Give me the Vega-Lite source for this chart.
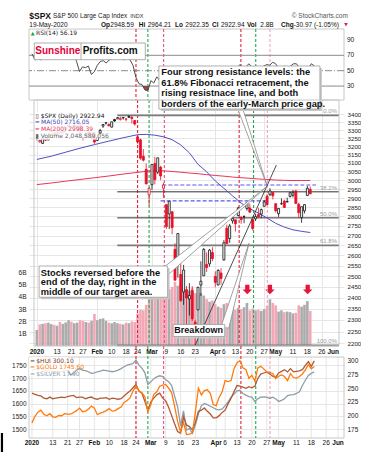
{
"$schema":"https://vega.github.io/schema/vega-lite/v6.json",
"background":"white",
"padding":{"left":0,"top":12,"right":0,"bottom":0},
"spacing":0,
"bounds":"flush",
"config":{
 "view":{"stroke":null},
 "axis":{"labelFont":"Liberation Sans","labelFontSize":6.5,"labelColor":"#222","ticks":false,"domain":false,"gridColor":"#e6e6e6","gridWidth":1,"labelOverlap":false}
},
"datasets":{
 "spx":[
{"i":0,"o":3244.67,"h":3258.14,"l":3235.53,"c":3257.85,"chg":27.07,"v":1.30,"rsi":72},
{"i":1,"o":3226.36,"h":3246.15,"l":3222.34,"c":3234.85,"chg":-23.0,"v":1.76,"rsi":64},
{"i":2,"o":3217.55,"h":3246.84,"l":3214.64,"c":3246.28,"chg":11.43,"v":1.80,"rsi":66},
{"i":3,"o":3241.86,"h":3244.91,"l":3232.43,"c":3237.18,"chg":-9.1,"v":1.85,"rsi":64},
{"i":4,"o":3238.59,"h":3267.07,"l":3236.67,"c":3253.05,"chg":15.87,"v":1.90,"rsi":67},
{"i":5,"o":3266.03,"h":3275.58,"l":3263.67,"c":3274.70,"chg":21.65,"v":1.78,"rsi":70},
{"i":6,"o":3281.81,"h":3282.99,"l":3260.86,"c":3265.35,"chg":-9.35,"v":1.72,"rsi":68},
{"i":7,"o":3271.13,"h":3288.13,"l":3268.43,"c":3288.13,"chg":22.78,"v":1.65,"rsi":71},
{"i":8,"o":3285.35,"h":3294.25,"l":3277.19,"c":3283.15,"chg":-4.98,"v":1.95,"rsi":69},
{"i":9,"o":3282.27,"h":3298.66,"l":3280.69,"c":3289.29,"chg":6.14,"v":1.80,"rsi":70},
{"i":10,"o":3302.97,"h":3317.11,"l":3302.82,"c":3316.81,"chg":27.52,"v":1.92,"rsi":74},
{"i":11,"o":3323.66,"h":3329.88,"l":3318.86,"c":3329.62,"chg":12.81,"v":2.10,"rsi":76},
{"i":12,"o":3321.03,"h":3329.79,"l":3316.61,"c":3320.79,"chg":-8.83,"v":1.98,"rsi":72},
{"i":13,"o":3330.02,"h":3337.77,"l":3320.04,"c":3321.75,"chg":0.96,"v":1.85,"rsi":72},
{"i":14,"o":3315.77,"h":3326.88,"l":3301.87,"c":3325.54,"chg":3.79,"v":1.90,"rsi":72},
{"i":15,"o":3333.10,"h":3333.18,"l":3281.53,"c":3295.47,"chg":-30.07,"v":2.10,"rsi":62},
{"i":16,"o":3247.16,"h":3258.85,"l":3234.50,"c":3243.63,"chg":-51.84,"v":2.05,"rsi":49},
{"i":17,"o":3255.35,"h":3285.78,"l":3253.22,"c":3276.24,"chg":32.61,"v":1.95,"rsi":55},
{"i":18,"o":3289.46,"h":3293.47,"l":3271.89,"c":3273.40,"chg":-2.84,"v":1.90,"rsi":54},
{"i":19,"o":3256.45,"h":3285.91,"l":3242.80,"c":3283.66,"chg":10.26,"v":2.05,"rsi":56},
{"i":20,"o":3282.33,"h":3282.33,"l":3214.68,"c":3225.52,"chg":-58.14,"v":2.60,"rsi":45},
{"i":21,"o":3235.66,"h":3268.44,"l":3235.66,"c":3248.92,"chg":23.4,"v":2.10,"rsi":49},
{"i":22,"o":3280.61,"h":3306.92,"l":3280.61,"c":3297.59,"chg":48.67,"v":2.20,"rsi":57},
{"i":23,"o":3324.91,"h":3337.58,"l":3313.75,"c":3334.69,"chg":37.1,"v":2.25,"rsi":62},
{"i":24,"o":3344.92,"h":3347.96,"l":3334.39,"c":3345.78,"chg":11.09,"v":2.05,"rsi":63},
{"i":25,"o":3335.54,"h":3341.42,"l":3322.12,"c":3327.71,"chg":-18.07,"v":1.90,"rsi":60},
{"i":26,"o":3318.28,"h":3352.26,"l":3317.77,"c":3352.09,"chg":24.38,"v":1.85,"rsi":64},
{"i":27,"o":3365.87,"h":3375.63,"l":3352.72,"c":3357.75,"chg":5.66,"v":1.95,"rsi":65},
{"i":28,"o":3370.50,"h":3381.47,"l":3369.72,"c":3379.45,"chg":21.7,"v":1.85,"rsi":67},
{"i":29,"o":3365.90,"h":3385.09,"l":3360.52,"c":3373.94,"chg":-5.51,"v":1.80,"rsi":66},
{"i":30,"o":3378.08,"h":3380.69,"l":3366.15,"c":3380.16,"chg":6.22,"v":1.75,"rsi":66},
{"i":31,"o":3369.04,"h":3375.01,"l":3355.61,"c":3370.29,"chg":-9.87,"v":1.90,"rsi":64},
{"i":32,"o":3380.39,"h":3393.52,"l":3378.83,"c":3386.15,"chg":15.86,"v":1.85,"rsi":67},
{"i":33,"o":3380.45,"h":3389.15,"l":3341.02,"c":3373.23,"chg":-12.92,"v":2.00,"rsi":64},
{"i":34,"o":3360.50,"h":3360.76,"l":3328.45,"c":3337.75,"chg":-35.48,"v":1.95,"rsi":57},
{"i":35,"o":3257.61,"h":3259.81,"l":3214.65,"c":3225.89,"chg":-111.86,"v":2.65,"rsi":41},
{"i":36,"o":3238.94,"h":3246.99,"l":3118.77,"c":3128.21,"chg":-97.68,"v":2.95,"rsi":33},
{"i":37,"o":3139.90,"h":3182.51,"l":3108.99,"c":3116.39,"chg":-11.82,"v":2.90,"rsi":32},
{"i":38,"o":3062.54,"h":3097.07,"l":2977.39,"c":2978.76,"chg":-137.63,"v":3.35,"rsi":25},
{"i":39,"o":2916.90,"h":2959.72,"l":2855.84,"c":2954.22,"chg":-24.54,"v":4.15,"rsi":24},
{"i":40,"o":2974.28,"h":3090.96,"l":2945.19,"c":3090.23,"chg":136.01,"v":5.3,"rsi":37},
{"i":41,"o":3096.46,"h":3136.72,"l":2976.63,"c":3003.37,"chg":-86.86,"v":5.2,"rsi":34},
{"i":42,"o":3045.75,"h":3130.97,"l":3034.38,"c":3130.12,"chg":126.75,"v":4.6,"rsi":42},
{"i":43,"o":3075.70,"h":3083.04,"l":2999.83,"c":3023.94,"chg":-106.18,"v":4.9,"rsi":37},
{"i":44,"o":2954.20,"h":2985.93,"l":2901.54,"c":2972.37,"chg":-51.57,"v":5.1,"rsi":35},
{"i":45,"o":2863.89,"h":2863.89,"l":2734.43,"c":2746.56,"chg":-225.81,"v":5.0,"rsi":27},
{"i":46,"o":2813.48,"h":2882.59,"l":2734.00,"c":2882.23,"chg":135.67,"v":4.6,"rsi":35},
{"i":47,"o":2825.60,"h":2825.60,"l":2707.22,"c":2741.38,"chg":-140.85,"v":4.8,"rsi":30},
{"i":48,"o":2630.86,"h":2660.95,"l":2478.86,"c":2480.64,"chg":-260.74,"v":5.2,"rsi":22},
{"i":49,"o":2569.99,"h":2711.33,"l":2492.37,"c":2711.02,"chg":230.38,"v":4.9,"rsi":32},
{"i":50,"o":2508.59,"h":2562.98,"l":2380.94,"c":2386.13,"chg":-324.89,"v":5.0,"rsi":25},
{"i":51,"o":2425.66,"h":2553.93,"l":2367.04,"c":2529.19,"chg":143.06,"v":4.7,"rsi":31},
{"i":52,"o":2436.50,"h":2453.57,"l":2280.52,"c":2398.10,"chg":-131.09,"v":4.6,"rsi":27},
{"i":53,"o":2393.48,"h":2466.97,"l":2319.78,"c":2409.39,"chg":11.29,"v":4.5,"rsi":28},
{"i":54,"o":2431.94,"h":2453.01,"l":2295.56,"c":2304.92,"chg":-104.47,"v":4.7,"rsi":25},
{"i":55,"o":2290.71,"h":2300.73,"l":2191.86,"c":2237.40,"chg":-67.52,"v":4.3,"rsi":23},
{"i":56,"o":2344.44,"h":2449.71,"l":2344.44,"c":2447.33,"chg":209.93,"v":4.2,"rsi":35},
{"i":57,"o":2457.77,"h":2571.42,"l":2407.53,"c":2475.56,"chg":28.23,"v":4.3,"rsi":36},
{"i":58,"o":2501.29,"h":2637.01,"l":2500.72,"c":2630.07,"chg":154.51,"v":4.1,"rsi":43},
{"i":59,"o":2555.87,"h":2615.91,"l":2520.02,"c":2541.47,"chg":-88.6,"v":3.8,"rsi":40},
{"i":60,"o":2558.98,"h":2631.80,"l":2545.28,"c":2626.65,"chg":85.18,"v":3.6,"rsi":44},
{"i":61,"o":2614.69,"h":2641.39,"l":2571.15,"c":2584.59,"chg":-42.06,"v":3.7,"rsi":42},
{"i":62,"o":2498.08,"h":2522.75,"l":2447.49,"c":2470.50,"chg":-114.09,"v":3.4,"rsi":38},
{"i":63,"o":2458.54,"h":2533.22,"l":2455.79,"c":2526.90,"chg":56.4,"v":3.2,"rsi":41},
{"i":64,"o":2514.92,"h":2538.18,"l":2459.96,"c":2488.65,"chg":-38.25,"v":3.1,"rsi":39},
{"i":65,"o":2578.28,"h":2676.85,"l":2574.57,"c":2663.68,"chg":175.03,"v":3.4,"rsi":49},
{"i":66,"o":2738.65,"h":2756.89,"l":2657.67,"c":2659.41,"chg":-4.27,"v":3.5,"rsi":49},
{"i":67,"o":2685.00,"h":2760.75,"l":2663.30,"c":2749.98,"chg":90.57,"v":3.2,"rsi":53},
{"i":68,"o":2776.99,"h":2818.57,"l":2762.36,"c":2789.82,"chg":39.84,"v":3.45,"rsi":55},
{"i":69,"o":2782.46,"h":2782.46,"l":2721.17,"c":2761.63,"chg":-28.19,"v":2.95,"rsi":54},
{"i":70,"o":2805.10,"h":2851.85,"l":2805.10,"c":2846.06,"chg":84.43,"v":3.1,"rsi":58},
{"i":71,"o":2795.64,"h":2801.88,"l":2761.54,"c":2783.36,"chg":-62.7,"v":3.0,"rsi":54},
{"i":72,"o":2799.34,"h":2806.51,"l":2764.32,"c":2799.55,"chg":16.19,"v":3.15,"rsi":55},
{"i":73,"o":2842.43,"h":2879.22,"l":2830.88,"c":2874.56,"chg":75.01,"v":3.5,"rsi":59},
{"i":74,"o":2845.62,"h":2868.98,"l":2820.43,"c":2823.16,"chg":-51.4,"v":2.9,"rsi":55},
{"i":75,"o":2784.81,"h":2785.54,"l":2727.10,"c":2736.56,"chg":-86.6,"v":3.05,"rsi":50},
{"i":76,"o":2787.89,"h":2815.10,"l":2775.95,"c":2799.31,"chg":62.75,"v":2.9,"rsi":54},
{"i":77,"o":2810.42,"h":2844.90,"l":2794.26,"c":2797.80,"chg":-1.51,"v":2.95,"rsi":54},
{"i":78,"o":2812.64,"h":2842.71,"l":2791.76,"c":2836.74,"chg":38.94,"v":2.85,"rsi":56},
{"i":79,"o":2854.65,"h":2887.72,"l":2852.89,"c":2878.48,"chg":41.74,"v":3.0,"rsi":58},
{"i":80,"o":2909.96,"h":2921.15,"l":2860.71,"c":2863.39,"chg":-15.09,"v":3.25,"rsi":57},
{"i":81,"o":2918.46,"h":2954.86,"l":2912.16,"c":2939.51,"chg":76.12,"v":3.8,"rsi":61},
{"i":82,"o":2930.91,"h":2930.91,"l":2892.47,"c":2912.43,"chg":-27.08,"v":3.5,"rsi":59},
{"i":83,"o":2869.09,"h":2869.09,"l":2821.61,"c":2830.71,"chg":-81.72,"v":3.3,"rsi":53},
{"i":84,"o":2815.01,"h":2844.24,"l":2797.85,"c":2842.74,"chg":12.03,"v":2.8,"rsi":54},
{"i":85,"o":2868.88,"h":2898.23,"l":2863.55,"c":2868.44,"chg":25.7,"v":2.9,"rsi":56},
{"i":86,"o":2883.14,"h":2891.11,"l":2847.65,"c":2848.42,"chg":-20.02,"v":2.75,"rsi":54},
{"i":87,"o":2878.26,"h":2901.92,"l":2876.48,"c":2881.19,"chg":32.77,"v":2.8,"rsi":56},
{"i":88,"o":2908.83,"h":2932.16,"l":2902.88,"c":2929.80,"chg":48.61,"v":2.75,"rsi":59},
{"i":89,"o":2915.46,"h":2944.25,"l":2903.44,"c":2930.19,"chg":0.39,"v":2.65,"rsi":59},
{"i":90,"o":2939.50,"h":2945.82,"l":2869.59,"c":2870.12,"chg":-60.07,"v":2.7,"rsi":54},
{"i":91,"o":2865.86,"h":2874.14,"l":2793.15,"c":2820.00,"chg":-50.12,"v":3.3,"rsi":50},
{"i":92,"o":2794.54,"h":2852.80,"l":2766.64,"c":2852.50,"chg":32.5,"v":3.2,"rsi":53},
{"i":93,"o":2829.95,"h":2865.01,"l":2816.78,"c":2863.70,"chg":11.2,"v":3.35,"rsi":53},
{"i":94,"o":2913.86,"h":2968.09,"l":2913.86,"c":2953.91,"chg":90.21,"v":3.65,"rsi":59},
{"i":95,"o":2948.59,"h":2964.21,"l":2922.35,"c":2922.94,"chg":-30.97,"v":2.85,"rsi":56.19}
 ],
 "ma":[
{"i":0,"ma50":3121,"ma200":2975},{"i":5,"ma50":3140,"ma200":2984},{"i":10,"ma50":3164,"ma200":2994},{"i":15,"ma50":3188,"ma200":3004},{"i":20,"ma50":3210,"ma200":3014},{"i":25,"ma50":3231,"ma200":3024},{"i":30,"ma50":3252,"ma200":3035},{"i":35,"ma50":3271,"ma200":3045},{"i":38,"ma50":3273,"ma200":3051},{"i":41,"ma50":3268,"ma200":3055},{"i":44,"ma50":3258,"ma200":3054},{"i":47,"ma50":3240,"ma200":3050},{"i":50,"ma50":3208,"ma200":3046},{"i":53,"ma50":3160,"ma200":3041},{"i":56,"ma50":3092,"ma200":3037},{"i":59,"ma50":3048,"ma200":3032},{"i":62,"ma50":2996,"ma200":3027},{"i":65,"ma50":2954,"ma200":3023},{"i":68,"ma50":2912,"ma200":3018},{"i":71,"ma50":2872,"ma200":3014},{"i":74,"ma50":2842,"ma200":3011},{"i":77,"ma50":2818,"ma200":3007},{"i":80,"ma50":2792,"ma200":3004},{"i":83,"ma50":2764,"ma200":3001},{"i":86,"ma50":2744,"ma200":2999},{"i":89,"ma50":2730,"ma200":2998},{"i":92,"ma50":2722,"ma200":2998},{"i":95,"ma50":2716.05,"ma200":2998.39}
 ],
 "metals":[
{"i":0,"gold":1524,"hui":241,"silver":18.0},{"i":1,"gold":1550,"hui":239,"silver":18.1},{"i":2,"gold":1566,"hui":237,"silver":18.15},{"i":3,"gold":1574,"hui":236,"silver":18.2},{"i":4,"gold":1558,"hui":232,"silver":18.1},{"i":5,"gold":1552,"hui":231,"silver":17.95},{"i":6,"gold":1560,"hui":234,"silver":18.0},{"i":7,"gold":1548,"hui":231,"silver":17.95},{"i":8,"gold":1546,"hui":232,"silver":17.85},{"i":9,"gold":1553,"hui":233,"silver":17.9},
{"i":10,"gold":1552,"hui":234,"silver":17.95},{"i":11,"gold":1560,"hui":233,"silver":18.0},{"i":12,"gold":1558,"hui":235,"silver":18.05},{"i":13,"gold":1558,"hui":236,"silver":17.6},{"i":14,"gold":1565,"hui":237,"silver":17.75},{"i":15,"gold":1572,"hui":233,"silver":18.05},{"i":16,"gold":1582,"hui":234,"silver":18.2},{"i":17,"gold":1568,"hui":234,"silver":18.05},{"i":18,"gold":1570,"hui":231,"silver":18.0},{"i":19,"gold":1578,"hui":233,"silver":17.9},
{"i":20,"gold":1590,"hui":234,"silver":17.75},{"i":21,"gold":1582,"hui":231,"silver":17.8},{"i":22,"gold":1556,"hui":230,"silver":17.9},{"i":23,"gold":1562,"hui":232,"silver":17.95},{"i":24,"gold":1566,"hui":232,"silver":18.05},{"i":25,"gold":1572,"hui":233,"silver":18.0},{"i":26,"gold":1580,"hui":230,"silver":17.95},{"i":27,"gold":1570,"hui":232,"silver":17.9},{"i":28,"gold":1572,"hui":231,"silver":17.95},{"i":29,"gold":1580,"hui":230,"silver":18.05},
{"i":30,"gold":1586,"hui":231,"silver":18.2},{"i":31,"gold":1604,"hui":236,"silver":18.37},{"i":32,"gold":1612,"hui":241,"silver":18.52},{"i":33,"gold":1622,"hui":245,"silver":18.6},{"i":34,"gold":1649,"hui":251,"silver":18.68},{"i":35,"gold":1668,"hui":257,"silver":19.0},{"i":36,"gold":1650,"hui":245,"silver":18.52},{"i":37,"gold":1642,"hui":241,"silver":18.25},{"i":38,"gold":1626,"hui":226,"silver":17.8},{"i":39,"gold":1568,"hui":210,"silver":16.7},
{"i":40,"gold":1596,"hui":225,"silver":16.95},{"i":41,"gold":1636,"hui":232,"silver":17.25},{"i":42,"gold":1646,"hui":238,"silver":17.42},{"i":43,"gold":1668,"hui":241,"silver":17.52},{"i":44,"gold":1672,"hui":232,"silver":17.45},{"i":45,"gold":1675,"hui":227,"silver":17.15},{"i":46,"gold":1660,"hui":215,"silver":16.95},{"i":47,"gold":1642,"hui":200,"silver":16.6},{"i":48,"gold":1590,"hui":185,"silver":15.6},{"i":49,"gold":1530,"hui":171,"silver":14.6},
{"i":50,"gold":1488,"hui":168,"silver":12.8},{"i":51,"gold":1526,"hui":198,"silver":14.2},{"i":52,"gold":1478,"hui":183,"silver":12.4},{"i":53,"gold":1480,"hui":180,"silver":12.55},{"i":54,"gold":1485,"hui":174,"silver":12.1},{"i":55,"gold":1568,"hui":188,"silver":12.9},{"i":56,"gold":1660,"hui":208,"silver":13.9},{"i":57,"gold":1634,"hui":210,"silver":14.7},{"i":58,"gold":1651,"hui":214,"silver":14.9},{"i":59,"gold":1654,"hui":208,"silver":14.8},
{"i":60,"gold":1640,"hui":203,"silver":14.65},{"i":61,"gold":1596,"hui":196,"silver":14.5},{"i":62,"gold":1592,"hui":196,"silver":14.35},{"i":63,"gold":1625,"hui":200,"silver":14.3},{"i":64,"gold":1646,"hui":206,"silver":14.4},{"i":65,"gold":1690,"hui":210,"silver":14.7},{"i":66,"gold":1686,"hui":222,"silver":15.05},{"i":67,"gold":1690,"hui":232,"silver":15.5},{"i":68,"gold":1737,"hui":244,"silver":15.8},{"i":69,"gold":1760,"hui":255,"silver":16.1},
{"i":70,"gold":1768,"hui":254,"silver":16.15},{"i":71,"gold":1740,"hui":252,"silver":15.85},{"i":72,"gold":1733,"hui":250,"silver":15.7},{"i":73,"gold":1699,"hui":253,"silver":15.55},{"i":74,"gold":1711,"hui":251,"silver":15.5},{"i":75,"gold":1688,"hui":254,"silver":15.1},{"i":76,"gold":1740,"hui":268,"silver":15.35},{"i":77,"gold":1746,"hui":276,"silver":15.5},{"i":78,"gold":1736,"hui":278,"silver":15.52},{"i":79,"gold":1724,"hui":280,"silver":15.5},
{"i":80,"gold":1722,"hui":276,"silver":15.38},{"i":81,"gold":1718,"hui":272,"silver":15.5},{"i":82,"gold":1698,"hui":270,"silver":15.35},{"i":83,"gold":1707,"hui":278,"silver":15.1},{"i":84,"gold":1712,"hui":281,"silver":15.2},{"i":85,"gold":1706,"hui":284,"silver":15.35},{"i":86,"gold":1690,"hui":280,"silver":15.65},{"i":87,"gold":1718,"hui":286,"silver":15.72},{"i":88,"gold":1702,"hui":280,"silver":15.75},{"i":89,"gold":1700,"hui":281,"silver":15.85},
{"i":90,"gold":1706,"hui":282,"silver":16.0},{"i":91,"gold":1716,"hui":284,"silver":16.6},{"i":92,"gold":1732,"hui":292,"silver":17.1},{"i":93,"gold":1753,"hui":299,"silver":17.55},{"i":94,"gold":1736,"hui":290,"silver":17.75},{"i":95,"gold":1745.6,"hui":300.1,"silver":17.9}
 ],
 "ticks":[{"t":0,"lab":"2020","m":1},{"t":7,"lab":"13","m":0},{"t":12,"lab":"21","m":0},{"t":16,"lab":"27","m":0},{"t":21,"lab":"Feb","m":1},{"t":26,"lab":"10","m":0},{"t":31,"lab":"18","m":0},{"t":35,"lab":"24","m":0},{"t":40,"lab":"Mar","m":1},{"t":45,"lab":"9","m":0},{"t":50,"lab":"16","m":0},{"t":55,"lab":"23","m":0},{"t":62,"lab":"Apr","m":1},{"t":65,"lab":"6","m":0},{"t":69,"lab":"13","m":0},{"t":74,"lab":"20","m":0},{"t":79,"lab":"27","m":0},{"t":83,"lab":"May","m":1},{"t":89,"lab":"11","m":0},{"t":94,"lab":"18","m":0},{"t":99,"lab":"26","m":0},{"t":103,"lab":"Jun","m":1}],
 "vlines":[{"i":35,"k":"r"},{"i":39,"k":"g"},{"i":44.3,"k":"p"},{"i":70.3,"k":"r"},{"i":75.3,"k":"g"},{"i":80.1,"k":"lp"}],
 "fib":[{"lvl":"0.0%","p":3393.52},{"lvl":"38.2%","p":2934.47},{"lvl":"50.0%","p":2792.69},{"lvl":"61.8%","p":2650.91},{"lvl":"100.0%","p":2191.86}],
 "gap":[{"p":2972.8,"from":43.6,"to":97},{"p":2884,"from":43.0,"to":80.4}],
 "oversold":[{"i":37.29,"rsi":30},{"i":38,"rsi":25},{"i":39,"rsi":24},{"i":39.46,"rsi":30}],
 "ptrFour":[{"i":69.14,"a":3467.6,"b":3467.6},{"i":71.03,"a":3467.6,"b":3375.2},{"i":79.93,"a":2972.8,"b":2972.8}],
 "ptrStocks":[{"i":44.77,"a":2549.6,"b":2496.2},{"i":79.76,"a":2961.5,"b":2961.5}],
 "ptrBreak":[{"i":63.83,"a":2265.3,"b":2265.3},{"i":66.73,"a":2374.7,"b":2265.3},{"i":73.71,"a":2660.8,"b":2660.8}],
 "arrows":[{"i":73.13},{"i":81.0},{"i":94.13}],
 "trend":[{"i":55,"p":2191.86},{"i":83.23,"p":3087.9}]
},
"vconcat":[
{
 "width":315,"height":71,
 "layer":[
  {"data":{"values":[{}]},"mark":{"type":"rect","fillOpacity":0,"stroke":"#c8c8c8","strokeWidth":1},"encoding":{"x":{"datum":-1,"axis":null},"x2":{"datum":105},"y":{"datum":104.2,"axis":null},"y2":{"datum":11.9}}},
  {"data":{"name":"vlines"},"mark":{"type":"rule","strokeDash":[3,2],"strokeWidth":1.1},
   "encoding":{
    "x":{"field":"i","type":"quantitative","title":null,"scale":{"domain":[-1,105],"nice":false,"zero":false},"axis":{"values":[0,7,12,16,21,26,31,35,40,45,50,55,62,65,69,74,79,83,89,94,99,103],"labels":false,"grid":true,"title":null}},
    "color":{"field":"k","type":"nominal","scale":{"domain":["r","g","p","lp"],"range":["#e3213b","#1fae4b","#ea4f78","#f4a0b8"]},"legend":null}}},
  {"data":{"values":[{"lv":70},{"lv":30}]},"mark":{"type":"rule","color":"#8a8a8a","strokeWidth":1},
   "encoding":{"y":{"field":"lv","type":"quantitative","title":null,"scale":{"domain":[11.9,104.2],"nice":false,"zero":false},"axis":{"orient":"right","values":[10,30,50,70,90],"labels":false,"grid":true,"title":null}}}},
  {"data":{"values":[{}]},"mark":{"type":"rule","color":"#8a8a8a","strokeWidth":1,"strokeDash":[7,2,1,2]},"encoding":{"y":{"datum":50,"axis":null}}},
  {"data":{"name":"oversold"},"mark":{"type":"area","color":"#8e3b3b","opacity":0.95},"encoding":{"x":{"field":"i","type":"quantitative","title":null},"y":{"field":"rsi","type":"quantitative","title":null},"y2":{"datum":30}}},
  {"data":{"name":"spx"},"mark":{"type":"line","color":"#4d4d4d","strokeWidth":1},"encoding":{"x":{"field":"i","type":"quantitative","title":null},"y":{"field":"rsi","type":"quantitative","title":null}}},
  {"data":{"values":[{"lv":90},{"lv":70},{"lv":50},{"lv":30}]},"mark":{"type":"text","align":"left","baseline":"middle","dx":3,"font":"Liberation Sans","fontSize":6.5,"color":"#222"},"encoding":{"x":{"datum":105,"axis":null},"y":{"field":"lv","type":"quantitative","title":null,"axis":null},"text":{"field":"lv"}}},
  {"data":{"values":[{}]},"mark":{"type":"rect","fill":"white","stroke":"#9a9a9a","strokeWidth":0.8},"encoding":{"x":{"datum":0.78,"axis":null},"x2":{"datum":38.14},"y":{"datum":86.0,"axis":null},"y2":{"datum":64.3}}},
  {"data":{"values":[{}]},"mark":{"type":"rule","color":"#9a9a9a","strokeWidth":0.8},"encoding":{"x":{"datum":16.5,"axis":null},"y":{"datum":86.0,"axis":null},"y2":{"datum":64.3}}},
  {"data":{"values":[{}]},"mark":{"type":"text","text":"Sunshine","align":"left","baseline":"middle","font":"Liberation Sans","fontSize":10,"fontWeight":"bold","color":"#e4003a"},"encoding":{"x":{"datum":1.12,"axis":null},"y":{"datum":75.2,"axis":null}}},
  {"data":{"values":[{}]},"mark":{"type":"text","text":"Profits.com","align":"left","baseline":"middle","font":"Liberation Sans","fontSize":10,"fontWeight":"bold","color":"#111"},"encoding":{"x":{"datum":17.07,"axis":null},"y":{"datum":75.2,"axis":null}}},
  {"data":{"values":[{}]},"mark":{"type":"text","text":"▲","align":"left","baseline":"middle","font":"DejaVu Sans","fontSize":5,"color":"#2a9d4a"},"encoding":{"x":{"datum":-0.4,"axis":null},"y":{"datum":99.0,"axis":null}}},
  {"data":{"values":[{}]},"mark":{"type":"text","text":"RSI(14) 56.19","align":"left","baseline":"middle","font":"DejaVu Sans","fontSize":6,"color":"#222"},"encoding":{"x":{"datum":1.36,"axis":null},"y":{"datum":99.0,"axis":null}}},
  {"data":{"values":[{}]},"mark":{"type":"text","text":"$SPX","align":"left","baseline":"middle","font":"Liberation Sans","fontSize":8.5,"fontWeight":"bold","color":"#111"},"encoding":{"x":{"datum":-0.9,"axis":null},"y":{"datum":121.1,"axis":null}}},
  {"data":{"values":[{}]},"mark":{"type":"text","text":"S&P 500 Large Cap Index","align":"left","baseline":"middle","font":"Liberation Sans","fontSize":6.4,"color":"#222"},"encoding":{"x":{"datum":7.08,"axis":null},"y":{"datum":121.1,"axis":null}}},
  {"data":{"values":[{}]},"mark":{"type":"text","text":"INDX","align":"left","baseline":"middle","font":"Liberation Sans","fontSize":5.5,"color":"#333"},"encoding":{"x":{"datum":33.09,"axis":null},"y":{"datum":121.1,"axis":null}}},
  {"data":{"values":[{}]},"mark":{"type":"text","text":"© StockCharts.com","align":"right","baseline":"middle","font":"Liberation Sans","fontSize":6.5,"color":"#555"},"encoding":{"x":{"datum":106.28,"axis":null},"y":{"datum":121.1,"axis":null}}},
  {"data":{"values":[{}]},"mark":{"type":"text","text":"19-May-2020","align":"left","baseline":"middle","font":"Liberation Sans","fontSize":6.5,"color":"#111"},"encoding":{"x":{"datum":-0.9,"axis":null},"y":{"datum":109.4,"axis":null}}},
  {"data":{"values":[{}]},"mark":{"type":"text","text":"Op","align":"left","baseline":"middle","font":"Liberation Sans","fontSize":6.5,"fontWeight":"bold","color":"#111"},"encoding":{"x":{"datum":23.23,"axis":null},"y":{"datum":109.4,"axis":null}}},
  {"data":{"values":[{}]},"mark":{"type":"text","text":"2948.59","align":"left","baseline":"middle","font":"Liberation Sans","fontSize":6.5,"color":"#111"},"encoding":{"x":{"datum":26.37,"axis":null},"y":{"datum":109.4,"axis":null}}},
  {"data":{"values":[{}]},"mark":{"type":"text","text":"Hi","align":"left","baseline":"middle","font":"Liberation Sans","fontSize":6.5,"fontWeight":"bold","color":"#111"},"encoding":{"x":{"datum":35.91,"axis":null},"y":{"datum":109.4,"axis":null}}},
  {"data":{"values":[{}]},"mark":{"type":"text","text":"2964.21","align":"left","baseline":"middle","font":"Liberation Sans","fontSize":6.5,"color":"#111"},"encoding":{"x":{"datum":38.94,"axis":null},"y":{"datum":109.4,"axis":null}}},
  {"data":{"values":[{}]},"mark":{"type":"text","text":"Lo","align":"left","baseline":"middle","font":"Liberation Sans","fontSize":6.5,"fontWeight":"bold","color":"#111"},"encoding":{"x":{"datum":48.13,"axis":null},"y":{"datum":109.4,"axis":null}}},
  {"data":{"values":[{}]},"mark":{"type":"text","text":"2922.35","align":"left","baseline":"middle","font":"Liberation Sans","fontSize":6.5,"color":"#111"},"encoding":{"x":{"datum":51.6,"axis":null},"y":{"datum":109.4,"axis":null}}},
  {"data":{"values":[{}]},"mark":{"type":"text","text":"Cl","align":"left","baseline":"middle","font":"Liberation Sans","fontSize":6.5,"fontWeight":"bold","color":"#111"},"encoding":{"x":{"datum":60.58,"axis":null},"y":{"datum":109.4,"axis":null}}},
  {"data":{"values":[{}]},"mark":{"type":"text","text":"2922.94","align":"left","baseline":"middle","font":"Liberation Sans","fontSize":6.5,"color":"#111"},"encoding":{"x":{"datum":63.61,"axis":null},"y":{"datum":109.4,"axis":null}}},
  {"data":{"values":[{}]},"mark":{"type":"text","text":"Vol","align":"left","baseline":"middle","font":"Liberation Sans","fontSize":6.5,"fontWeight":"bold","color":"#111"},"encoding":{"x":{"datum":72.36,"axis":null},"y":{"datum":109.4,"axis":null}}},
  {"data":{"values":[{}]},"mark":{"type":"text","text":"2.8B","align":"left","baseline":"middle","font":"Liberation Sans","fontSize":6.5,"color":"#111"},"encoding":{"x":{"datum":76.84,"axis":null},"y":{"datum":109.4,"axis":null}}},
  {"data":{"values":[{}]},"mark":{"type":"text","text":"Chg","align":"left","baseline":"middle","font":"Liberation Sans","fontSize":6.5,"fontWeight":"bold","color":"#111"},"encoding":{"x":{"datum":83.8,"axis":null},"y":{"datum":109.4,"axis":null}}},
  {"data":{"values":[{}]},"mark":{"type":"text","text":"-30.97 (-1.05%)","align":"left","baseline":"middle","font":"Liberation Sans","fontSize":6.5,"color":"#111"},"encoding":{"x":{"datum":88.07,"axis":null},"y":{"datum":109.4,"axis":null}}},
  {"data":{"values":[{}]},"mark":{"type":"text","text":"▼","align":"left","baseline":"middle","font":"DejaVu Sans","fontSize":4.5,"color":"#e3173e"},"encoding":{"x":{"datum":105.1,"axis":null},"y":{"datum":109.4,"axis":null}}}
 ]
},
{
 "width":315,"height":246,
 "resolve":{"scale":{"y":"independent"},"axis":{"y":"independent"}},
 "layer":[
  {"data":{"name":"spx"},"mark":{"type":"bar","width":2.6,"orient":"vertical"},
   "encoding":{
    "x":{"field":"i","type":"quantitative","title":null,"scale":{"domain":[-1,105],"nice":false,"zero":false},
     "axis":{"values":[0,7,12,16,21,26,31,35,40,45,50,55,62,65,69,74,79,83,89,94,99,103],"labels":false,"grid":true,"title":null}},
    "y":{"field":"v","type":"quantitative","title":null,"scale":{"domain":[0,20],"nice":false},"axis":{"orient":"left","values":[1,2,3,4,5,6],"labelExpr":"datum.value + 'B'","grid":false,"labelPadding":3,"labelOverlap":false,"title":null}},
    "color":{"condition":{"test":"datum.chg < 0","value":"#f2a7b6"},"value":"#ababab"}}},
  {"data":{"name":"arrows"},"mark":{"type":"point","shape":"M-0.45,-1L0.45,-1L0.45,0L1,0L0,1L-1,0L-0.45,0Z","size":90,"filled":true,"color":"#e3173e","opacity":1},
   "encoding":{"x":{"field":"i","type":"quantitative","title":null},"y":{"datum":4.59,"scale":{"domain":[0,20],"nice":false},"axis":null}}},
  {"data":{"name":"vlines"},"mark":{"type":"rule","strokeDash":[3,2],"strokeWidth":1.1},
   "encoding":{"x":{"field":"i","type":"quantitative","title":null},
    "color":{"field":"k","type":"nominal","scale":{"domain":["r","g","p","lp"],"range":["#e3213b","#1fae4b","#ea4f78","#f4a0b8"]},"legend":null}}},
  {"data":{"name":"fib"},"mark":{"type":"rule"},
   "encoding":{"x":{"datum":27.94},"x2":{"datum":105},
    "y":{"field":"p","type":"quantitative","title":null,"scale":{"type":"log","domain":[2189,3494],"nice":false,"zero":false},"axis":{"orient":"right","values":[2200,2250,2300,2350,2400,2450,2500,2550,2600,2650,2700,2750,2800,2850,2900,2950,3000,3050,3100,3150,3200,3250,3300,3350,3400],"format":"d","grid":true,"labelPadding":3,"labelFontSize":6.2,"labelOverlap":false,"title":null}},
    "color":{"condition":{"test":"datum.lvl == '38.2%' || datum.lvl == '50.0%'","value":"#333"},"value":"#7a7a7a"},
    "strokeWidth":{"condition":{"test":"datum.lvl == '38.2%' || datum.lvl == '50.0%'","value":1},"value":1.8}}},
  {"data":{"name":"gap"},"mark":{"type":"rule","color":"#5b5bea","strokeDash":[4,2],"strokeWidth":1.2},
   "encoding":{"x":{"field":"from","type":"quantitative","title":null},"x2":{"field":"to"},"y":{"field":"p","type":"quantitative","title":null,"scale":{"type":"log","domain":[2189,3494],"nice":false,"zero":false},"axis":null}}},
  {"data":{"name":"ma"},"mark":{"type":"line","color":"#e8365a","strokeWidth":1},"encoding":{"x":{"field":"i","type":"quantitative","title":null},"y":{"field":"ma200","type":"quantitative","title":null,"scale":{"type":"log","domain":[2189,3494],"nice":false,"zero":false},"axis":null}}},
  {"data":{"name":"ma"},"mark":{"type":"line","color":"#4f4fc4","strokeWidth":1},"encoding":{"x":{"field":"i","type":"quantitative","title":null},"y":{"field":"ma50","type":"quantitative","title":null,"scale":{"type":"log","domain":[2189,3494],"nice":false,"zero":false},"axis":null}}},
  {"data":{"name":"spx"},"mark":{"type":"rule","strokeWidth":0.8},
   "encoding":{"x":{"field":"i","type":"quantitative","title":null},"y":{"field":"l","type":"quantitative","title":null,"scale":{"type":"log","domain":[2189,3494],"nice":false,"zero":false},"axis":null},"y2":{"field":"h"},
    "color":{"condition":{"test":"datum.chg < 0","value":"#e8102a"},"value":"#111"}}},
  {"data":{"name":"spx"},"mark":{"type":"bar","width":2.0,"orient":"vertical","strokeWidth":0.8},
   "encoding":{"x":{"field":"i","type":"quantitative","title":null},"y":{"field":"o","type":"quantitative","title":null,"scale":{"type":"log","domain":[2189,3494],"nice":false,"zero":false},"axis":null},"y2":{"field":"c"},
    "stroke":{"condition":{"test":"datum.chg < 0","value":"#e8102a"},"value":"#111"},
    "fill":{"condition":[{"test":"datum.c > datum.o","value":"white"},{"test":"datum.chg < 0","value":"#e8102a"}],"value":"#111"}}},
  {"data":{"name":"trend"},"mark":{"type":"line","color":"#222","strokeWidth":0.8},"encoding":{"x":{"field":"i","type":"quantitative","title":null},"y":{"field":"p","type":"quantitative","title":null,"scale":{"type":"log","domain":[2189,3494],"nice":false,"zero":false},"axis":null}}},
  {"data":{"values":[{}]},"mark":{"type":"rect","fill":"white","opacity":0.85},"encoding":{"x":{"datum":-1},"x2":{"datum":27.6},"y":{"datum":3418.5,"scale":{"type":"log","domain":[2189,3494],"nice":false,"zero":false},"axis":null},"y2":{"datum":3370}}},
  {"data":{"values":[{}]},"mark":{"type":"rect","fill":"white","opacity":0.85},"encoding":{"x":{"datum":-1},"x2":{"datum":21.3},"y":{"datum":3370,"scale":{"type":"log","domain":[2189,3494],"nice":false,"zero":false},"axis":null},"y2":{"datum":3239.4}}},
  {"data":{"values":[{}]},"mark":{"type":"text","text":"▯ $SPX (Daily) 2922.94","align":"left","baseline":"middle","font":"DejaVu Sans","fontSize":6,"color":"#111"},"encoding":{"x":{"datum":-0.5},"y":{"datum":3391.3,"scale":{"type":"log","domain":[2189,3494],"nice":false,"zero":false},"axis":null}}},
  {"data":{"values":[{}]},"mark":{"type":"text","text":"━ MA(50) 2716.05","align":"left","baseline":"middle","font":"DejaVu Sans","fontSize":6,"color":"#4444bb"},"encoding":{"x":{"datum":-0.5},"y":{"datum":3349.0,"scale":{"type":"log","domain":[2189,3494],"nice":false,"zero":false},"axis":null}}},
  {"data":{"values":[{}]},"mark":{"type":"text","text":"━ MA(200) 2998.39","align":"left","baseline":"middle","font":"DejaVu Sans","fontSize":6,"color":"#e8365a"},"encoding":{"x":{"datum":-0.5},"y":{"datum":3304.8,"scale":{"type":"log","domain":[2189,3494],"nice":false,"zero":false},"axis":null}}},
  {"data":{"values":[{}]},"mark":{"type":"text","text":"▮ Volume 2,048,589,056","align":"left","baseline":"middle","font":"DejaVu Sans","fontSize":6,"color":"#666"},"encoding":{"x":{"datum":-0.5},"y":{"datum":3261.1,"scale":{"type":"log","domain":[2189,3494],"nice":false,"zero":false},"axis":null}}},
  {"data":{"name":"ptrStocks"},"mark":{"type":"area","fill":"white","stroke":"#8c8c8c","strokeWidth":0.8,"orient":"vertical"},"encoding":{"x":{"field":"i","type":"quantitative","title":null},"y":{"field":"a","type":"quantitative","title":null,"scale":{"type":"log","domain":[2189,3494],"nice":false,"zero":false},"axis":null},"y2":{"field":"b"}}},
  {"data":{"name":"ptrFour"},"mark":{"type":"area","fill":"white","stroke":"#8c8c8c","strokeWidth":0.8,"orient":"vertical"},"encoding":{"x":{"field":"i","type":"quantitative","title":null},"y":{"field":"a","type":"quantitative","title":null,"scale":{"type":"log","domain":[2189,3494],"nice":false,"zero":false},"axis":null},"y2":{"field":"b"}}},
  {"data":{"name":"ptrBreak"},"mark":{"type":"area","fill":"white","stroke":"#8c8c8c","strokeWidth":0.8,"orient":"vertical"},"encoding":{"x":{"field":"i","type":"quantitative","title":null},"y":{"field":"a","type":"quantitative","title":null,"scale":{"type":"log","domain":[2189,3494],"nice":false,"zero":false},"axis":null},"y2":{"field":"b"}}},
  {"data":{"values":[{}]},"mark":{"type":"rect","fill":"#c8c8c8"},"encoding":{"x":{"datum":43.08},"x2":{"datum":99.04},"y":{"datum":3713.2,"scale":{"type":"log","domain":[2189,3494],"nice":false,"zero":false},"axis":null},"y2":{"datum":3421.7}}},
  {"data":{"values":[{}]},"mark":{"type":"rect","fill":"white","stroke":"#9a9a9a","strokeWidth":0.8},"encoding":{"x":{"datum":42.41},"x2":{"datum":98.37},"y":{"datum":3727.3,"scale":{"type":"log","domain":[2189,3494],"nice":false,"zero":false},"axis":null},"y2":{"datum":3434.7}}},
  {"data":{"values":[{}]},"mark":{"type":"text","text":["Four strong resistance levels: the","61.8% Fibonacci retracement, the","rising resistnace line, and both","borders of the early-March price gap."],"lineHeight":10.5,"align":"left","baseline":"middle","font":"Liberation Sans","fontSize":9.3,"fontWeight":"bold","color":"#111"},"encoding":{"x":{"datum":43.25},"y":{"datum":3681.5,"scale":{"type":"log","domain":[2189,3494],"nice":false,"zero":false},"axis":null}}},
  {"data":{"values":[{}]},"mark":{"type":"rect","fill":"#c8c8c8"},"encoding":{"x":{"datum":1.45},"x2":{"datum":46.11},"y":{"datum":2538.7,"scale":{"type":"log","domain":[2189,3494],"nice":false,"zero":false},"axis":null},"y2":{"datum":2392.3}}},
  {"data":{"values":[{}]},"mark":{"type":"rect","fill":"white","stroke":"#9a9a9a","strokeWidth":0.8},"encoding":{"x":{"datum":0.78},"x2":{"datum":45.44},"y":{"datum":2548.4,"scale":{"type":"log","domain":[2189,3494],"nice":false,"zero":false},"axis":null},"y2":{"datum":2401.4}}},
  {"data":{"values":[{}]},"mark":{"type":"text","text":["Stocks reversed before the","end of the day, right in the","middle of our target area."],"lineHeight":9.5,"align":"left","baseline":"middle","font":"Liberation Sans","fontSize":9.3,"fontWeight":"bold","color":"#111"},"encoding":{"x":{"datum":1.36},"y":{"datum":2517.2,"scale":{"type":"log","domain":[2189,3494],"nice":false,"zero":false},"axis":null}}},
  {"data":{"values":[{}]},"mark":{"type":"rect","fill":"#c8c8c8"},"encoding":{"x":{"datum":48.03},"x2":{"datum":65.96},"y":{"datum":2271.8,"scale":{"type":"log","domain":[2189,3494],"nice":false,"zero":false},"axis":null},"y2":{"datum":2220.6}}},
  {"data":{"values":[{}]},"mark":{"type":"rect","fill":"white","stroke":"#9a9a9a","strokeWidth":0.8},"encoding":{"x":{"datum":47.36},"x2":{"datum":65.29},"y":{"datum":2280.4,"scale":{"type":"log","domain":[2189,3494],"nice":false,"zero":false},"axis":null},"y2":{"datum":2229.0}}},
  {"data":{"values":[{}]},"mark":{"type":"text","text":"Breakdown","align":"center","baseline":"middle","font":"Liberation Sans","fontSize":9,"fontWeight":"bold","color":"#111"},"encoding":{"x":{"datum":56.21},"y":{"datum":2254.6,"scale":{"type":"log","domain":[2189,3494],"nice":false,"zero":false},"axis":null}}},
  {"data":{"name":"fib"},"mark":{"type":"text","align":"right","baseline":"bottom","dy":-1,"font":"Liberation Sans","fontSize":6,"color":"#9a9a9a"},"encoding":{"x":{"datum":104.3},"y":{"field":"p","type":"quantitative","title":null,"scale":{"type":"log","domain":[2189,3494],"nice":false,"zero":false},"axis":null},"text":{"field":"lvl"}}},
  {"data":{"values":[{}]},"mark":{"type":"rect","fillOpacity":0,"stroke":"#c8c8c8","strokeWidth":1},"encoding":{"x":{"datum":-1},"x2":{"datum":105},"y":{"datum":3494,"scale":{"type":"log","domain":[2189,3494],"nice":false,"zero":false},"axis":null},"y2":{"datum":2189}}},
  {"data":{"name":"ticks"},"transform":[{"filter":"datum.m == 1"}],"mark":{"type":"text","align":"center","baseline":"middle","font":"Liberation Sans","fontSize":6.5,"fontWeight":"bold","color":"#111"},"encoding":{"x":{"field":"t","type":"quantitative","title":null},"y":{"datum":2162.2,"scale":{"type":"log","domain":[2189,3494],"nice":false,"zero":false},"axis":null},"text":{"field":"lab"}}},
  {"data":{"name":"ticks"},"transform":[{"filter":"datum.m == 0"}],"mark":{"type":"text","align":"center","baseline":"middle","font":"Liberation Sans","fontSize":6.5,"color":"#111"},"encoding":{"x":{"field":"t","type":"quantitative","title":null},"y":{"datum":2162.2,"scale":{"type":"log","domain":[2189,3494],"nice":false,"zero":false},"axis":null},"text":{"field":"lab"}}}
 ]
},
{
 "width":315,"height":92,
 "resolve":{"scale":{"y":"independent"},"axis":{"y":"independent"}},
 "layer":[
  {"data":{"name":"ticks"},"mark":{"type":"rule","color":"#e6e6e6"},
   "encoding":{"x":{"field":"t","type":"quantitative","title":null,"scale":{"domain":[-1,105],"nice":false,"zero":false},"axis":null},
    "y":{"datum":11.65,"scale":{"domain":[11.65,20.33],"nice":false,"zero":false},"axis":null},"y2":{"datum":19.29}}},
  {"data":{"values":[{}]},"mark":{"type":"rect","fillOpacity":0,"stroke":"#c8c8c8","strokeWidth":1},"encoding":{"x":{"datum":-1},"x2":{"datum":105},"y":{"datum":19.29,"scale":{"domain":[11.65,20.33],"nice":false,"zero":false},"axis":null},"y2":{"datum":11.65}}},
  {"data":{"name":"vlines"},"mark":{"type":"rule","strokeDash":[3,2],"strokeWidth":1.1},
   "encoding":{"x":{"field":"i","type":"quantitative","title":null},
    "color":{"field":"k","type":"nominal","scale":{"domain":["r","g","p","lp"],"range":["#e3213b","#1fae4b","#ea4f78","#f4a0b8"]},"legend":null}}},
  {"data":{"name":"metals"},"mark":{"type":"line","color":"#8e9ea8","strokeWidth":1.3},
   "encoding":{"x":{"field":"i","type":"quantitative","title":null},"y":{"field":"silver","type":"quantitative","title":null,"scale":{"domain":[11.65,20.33],"nice":false,"zero":false},"axis":null}}},
  {"data":{"values":[{}]},"mark":{"type":"rule","color":"#000","strokeWidth":2.2},"encoding":{"x":{"datum":-10.1},"y":{"datum":12.12,"scale":{"domain":[11.65,20.33],"nice":false,"zero":false},"axis":null},"y2":{"datum":10.33}}},
  {"data":{"name":"metals"},"mark":{"type":"line","color":"#b05a35","strokeWidth":1.3},
   "encoding":{"x":{"field":"i","type":"quantitative","title":null},"y":{"field":"hui","type":"quantitative","title":null,"scale":{"domain":[159.1,327.4],"nice":false,"zero":false},"axis":{"orient":"right","values":[175,200,225,250,275,300],"grid":false,"labelPadding":3,"labelOverlap":false,"title":null}}}},
  {"data":{"name":"metals"},"mark":{"type":"line","color":"#ff7a0a","strokeWidth":1.3},
   "encoding":{"x":{"field":"i","type":"quantitative","title":null},"y":{"field":"gold","type":"quantitative","title":null,"scale":{"domain":[1464.7,1825.7],"nice":false,"zero":false},"axis":{"orient":"left","values":[1500,1550,1600,1650,1700,1750],"format":"d","grid":true,"labelPadding":3,"labelOverlap":false,"title":null}}}},
  {"data":{"values":[{}]},"mark":{"type":"rect","fill":"white","opacity":0.85},"encoding":{"x":{"datum":-1},"x2":{"datum":12.2},"y":{"datum":1782.6,"scale":{"domain":[1464.7,1825.7],"nice":false,"zero":false},"axis":null},"y2":{"datum":1709}}},
  {"data":{"values":[{}]},"mark":{"type":"text","text":"━ $HUI 300.10","align":"left","baseline":"middle","font":"DejaVu Sans","fontSize":6,"color":"#7a3b1e"},"encoding":{"x":{"datum":-0.4},"y":{"datum":1768.1,"scale":{"domain":[1464.7,1825.7],"nice":false,"zero":false},"axis":null}}},
  {"data":{"values":[{}]},"mark":{"type":"text","text":"━ $GOLD 1745.60","align":"left","baseline":"middle","font":"DejaVu Sans","fontSize":6,"color":"#ff7a0a"},"encoding":{"x":{"datum":-0.4},"y":{"datum":1742.2,"scale":{"domain":[1464.7,1825.7],"nice":false,"zero":false},"axis":null}}},
  {"data":{"values":[{}]},"mark":{"type":"text","text":"━ $SILVER 17.90","align":"left","baseline":"middle","font":"DejaVu Sans","fontSize":6,"color":"#8e9ea8"},"encoding":{"x":{"datum":-0.4},"y":{"datum":1715.9,"scale":{"domain":[1464.7,1825.7],"nice":false,"zero":false},"axis":null}}},
  {"data":{"name":"ticks"},"transform":[{"filter":"datum.m == 1"}],"mark":{"type":"text","align":"center","baseline":"middle","font":"Liberation Sans","fontSize":6.5,"fontWeight":"bold","color":"#111"},"encoding":{"x":{"field":"t","type":"quantitative","title":null},"y":{"datum":1443.8,"scale":{"domain":[1464.7,1825.7],"nice":false,"zero":false},"axis":null},"text":{"field":"lab"}}},
  {"data":{"name":"ticks"},"transform":[{"filter":"datum.m == 0"}],"mark":{"type":"text","align":"center","baseline":"middle","font":"Liberation Sans","fontSize":6.5,"color":"#111"},"encoding":{"x":{"field":"t","type":"quantitative","title":null},"y":{"datum":1443.8,"scale":{"domain":[1464.7,1825.7],"nice":false,"zero":false},"axis":null},"text":{"field":"lab"}}}
 ]
}
]
}
